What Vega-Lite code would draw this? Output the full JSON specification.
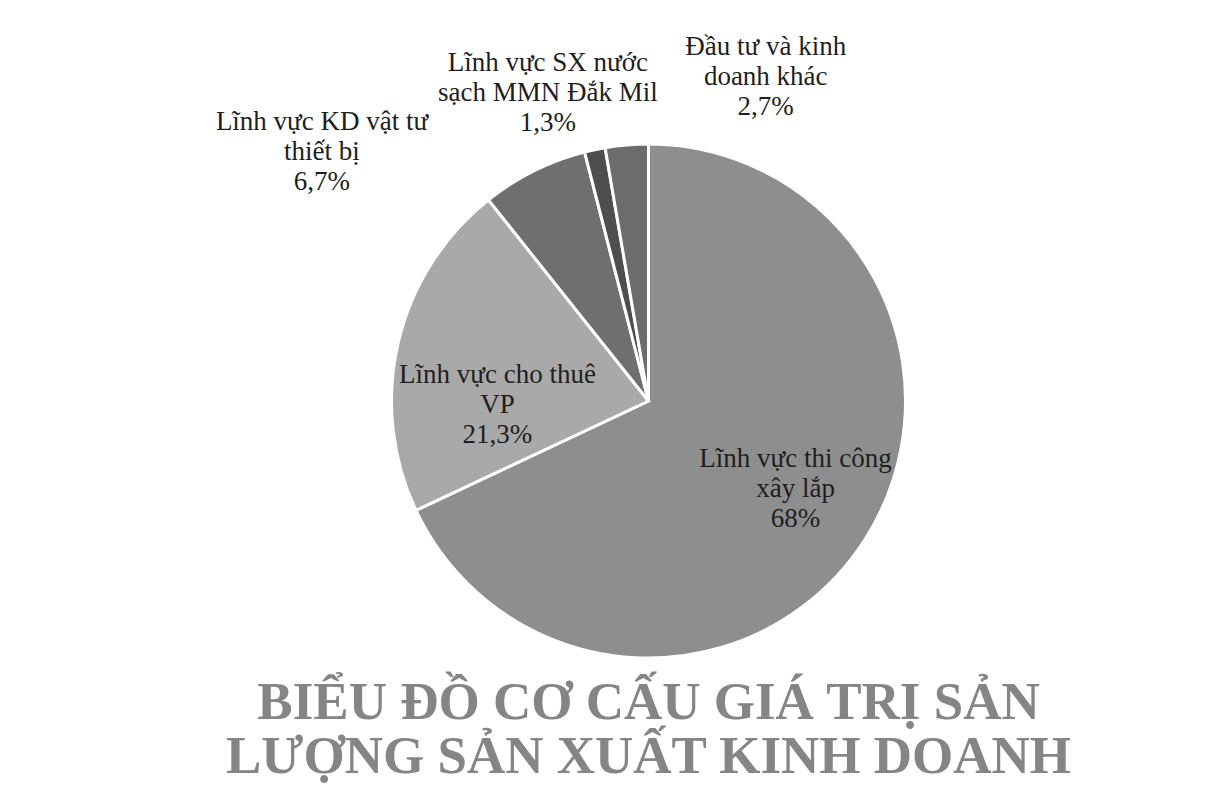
{
  "$schema": "https://vega.github.io/schema/vega-lite/v6.json",
  "width": 1117,
  "height": 652,
  "autosize": "none",
  "padding": {"left": 90, "top": 75, "right": 0, "bottom": 61},
  "background": "white",
  "config": {"view": {"stroke": null}, "font": "Liberation Serif"},
  "title": {
    "text": ["BIỂU ĐỒ CƠ CẤU GIÁ TRỊ SẢN", "LƯỢNG SẢN XUẤT KINH DOANH"],
    "orient": "bottom",
    "anchor": "middle",
    "offset": -50,
    "font": "Liberation Serif",
    "fontSize": 53,
    "fontWeight": "bold",
    "color": "#858585",
    "lineHeight": 54
  },
  "data": {
    "values": [
      {"category": "Lĩnh vực thi công xây lắp", "value": 68.0, "order": 1, "label": ["Lĩnh vực thi công", "xây lắp", "68%"]},
      {"category": "Lĩnh vực cho thuê VP", "value": 21.3, "order": 2, "label": ["Lĩnh vực cho thuê", "VP", "21,3%"]},
      {"category": "Lĩnh vực KD vật tư thiết bị", "value": 6.7, "order": 3, "label": ["Lĩnh vực KD vật tư", "thiết bị", "6,7%"]},
      {"category": "Lĩnh vực SX nước sạch MMN Đắk Mil", "value": 1.3, "order": 4, "label": ["Lĩnh vực SX nước", "sạch MMN Đắk Mil", "1,3%"]},
      {"category": "Đầu tư và kinh doanh khác", "value": 2.7, "order": 5, "label": ["Đầu tư và kinh", "doanh khác", "2,7%"]}
    ]
  },
  "encoding": {
    "theta": {"field": "value", "type": "quantitative", "stack": true},
    "order": {"field": "order", "type": "quantitative"}
  },
  "layer": [
    {
      "mark": {"type": "arc", "radius": 257, "stroke": "white", "strokeWidth": 3},
      "encoding": {
        "color": {
          "field": "category",
          "type": "nominal",
          "scale": {
            "domain": ["Lĩnh vực thi công xây lắp", "Lĩnh vực cho thuê VP", "Lĩnh vực KD vật tư thiết bị", "Lĩnh vực SX nước sạch MMN Đắk Mil", "Đầu tư và kinh doanh khác"],
            "range": ["#8e8e8e", "#a9a9a9", "#6f6f6f", "#4e4e4e", "#6c6c6c"]
          },
          "legend": null
        }
      }
    },
    {
      "mark": {"type": "text", "radius": 170, "dx": 3.5, "dy": -33, "fontSize": 27, "lineHeight": 30, "font": "Liberation Serif", "color": "#1e1e1e"},
      "encoding": {"text": {"condition": {"test": "datum.order === 1", "field": "label"}, "value": ""}}
    },
    {
      "mark": {"type": "text", "radius": 190, "dx": 34, "dy": 17, "fontSize": 27, "lineHeight": 30, "font": "Liberation Serif", "color": "#1e1e1e"},
      "encoding": {"text": {"condition": {"test": "datum.order === 2", "field": "label"}, "value": ""}}
    },
    {
      "mark": {"type": "text", "radius": 257, "dx": -212, "dy": -49, "fontSize": 27, "lineHeight": 30, "font": "Liberation Serif", "color": "#1e1e1e"},
      "encoding": {"text": {"condition": {"test": "datum.order === 3", "field": "label"}, "value": ""}}
    },
    {
      "mark": {"type": "text", "radius": 257, "dx": -47, "dy": -87, "fontSize": 27, "lineHeight": 30, "font": "Liberation Serif", "color": "#1e1e1e"},
      "encoding": {"text": {"condition": {"test": "datum.order === 4", "field": "label"}, "value": ""}}
    },
    {
      "mark": {"type": "text", "radius": 257, "dx": 139, "dy": -98, "fontSize": 27, "lineHeight": 30, "font": "Liberation Serif", "color": "#1e1e1e"},
      "encoding": {"text": {"condition": {"test": "datum.order === 5", "field": "label"}, "value": ""}}
    }
  ]
}
